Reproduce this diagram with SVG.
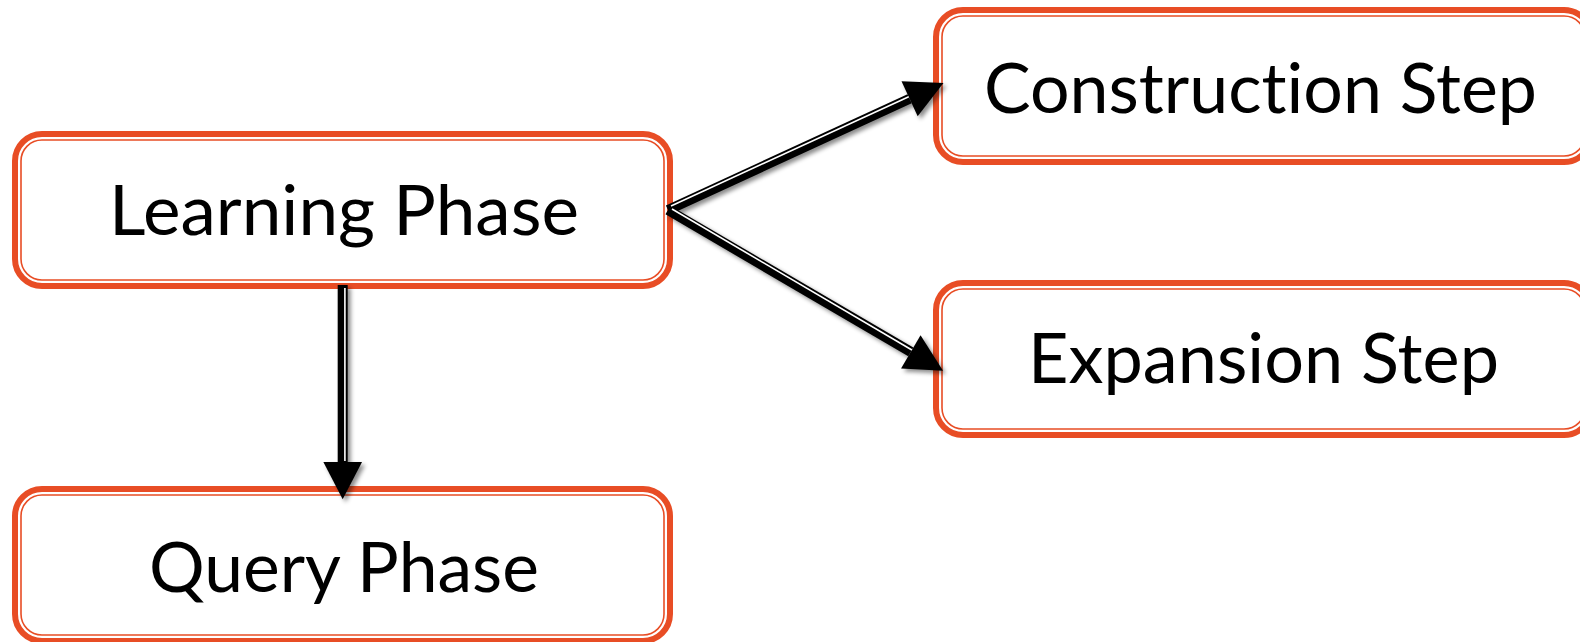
<svg xmlns="http://www.w3.org/2000/svg" width="1580" height="642" viewBox="0 0 1580 642">
  <style>
    .outer { fill: #ffffff; stroke: #E84D25; stroke-width: 6; }
    .inner { fill: none; stroke: #E84D25; stroke-width: 1.6; }
    .label { font-family: Lato, "Open Sans", "Liberation Sans", sans-serif; font-size: 70px; fill: #000000; font-variant-ligatures: none; font-feature-settings: "liga" 0, "dlig" 0; }
    .shaft { stroke: #000000; stroke-width: 10; fill: none; }
    .gap { stroke: #ffffff; stroke-width: 1.6; fill: none; }
  </style>
  <defs>
    <marker id="head" markerUnits="userSpaceOnUse" markerWidth="40" markerHeight="40" viewBox="0 -15 29 30" refX="0" refY="0" orient="auto">
      <path d="M0,-14.5 L28,0 L0,14.5 Z" fill="#000000"/>
    </marker>
    <filter id="shadow" x="-20%" y="-20%" width="140%" height="140%">
      <feDropShadow dx="3" dy="3" stdDeviation="2" flood-color="#000000" flood-opacity="0.45"/>
    </filter>
  </defs>

  <rect width="1580" height="642" fill="#ffffff"/>

  <g id="learning-phase">
    <rect class="outer" x="15" y="134" width="655" height="152" rx="27"/>
    <rect class="inner" x="21" y="140" width="643" height="140" rx="21"/>
    <text class="label" x="109" y="235" textLength="470" lengthAdjust="spacingAndGlyphs">Learning Phase</text>
  </g>

  <g id="construction-step">
    <rect class="outer" x="936" y="10" width="655" height="152" rx="27"/>
    <rect class="inner" x="942" y="16" width="643" height="140" rx="21"/>
    <text class="label" x="984" y="113" textLength="553" lengthAdjust="spacingAndGlyphs">Construction Step</text>
  </g>

  <g id="expansion-step">
    <rect class="outer" x="936" y="283" width="655" height="152" rx="27"/>
    <rect class="inner" x="942" y="289" width="643" height="140" rx="21"/>
    <text class="label" x="1028" y="383" textLength="471" lengthAdjust="spacingAndGlyphs">Expansion Step</text>
  </g>

  <g id="query-phase">
    <rect class="outer" x="15" y="489" width="655" height="152" rx="27"/>
    <rect class="inner" x="21" y="495" width="643" height="140" rx="21"/>
    <text class="label" x="149" y="592" textLength="390" lengthAdjust="spacingAndGlyphs">Query Phase</text>
  </g>

  <g id="connectors">
    <g filter="url(#shadow)">
      <line class="shaft" x1="668" y1="210" x2="909.6" y2="98.7" marker-end="url(#head)"/>
      <line class="shaft" x1="668" y1="210" x2="910.8" y2="351.9" marker-end="url(#head)"/>
      <line class="shaft" x1="342.7" y1="285" x2="342.7" y2="462" marker-end="url(#head)"/>
    </g>
    <line class="gap" x1="671" y1="206" x2="908.7" y2="96.7"/>
    <line class="gap" x1="672" y1="209" x2="911.9" y2="350"/>
    <line class="gap" x1="344.9" y1="288" x2="344.9" y2="461"/>
  </g>
</svg>
